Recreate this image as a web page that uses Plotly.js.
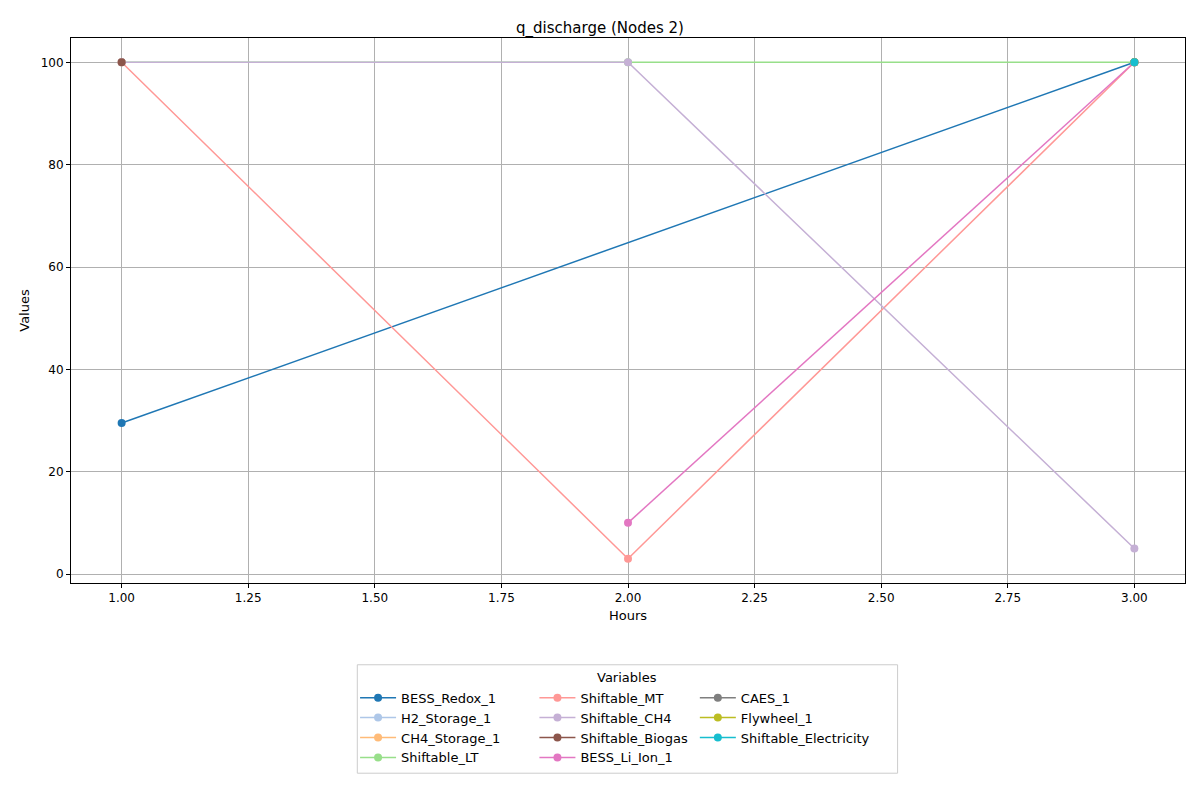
<!DOCTYPE html>
<html>
<head>
<meta charset="utf-8">
<script src="https://cdn.plot.ly/plotly-3.0.1.min.js"></script>
<style>body{margin:0}#plot{width:1200px;height:800px}</style>
</head>
<body>
<div id="plot"></div>
<script>
// hours on the x axis
const hours = [1, 2, 3];

// one array per variable (null = no value that hour)
const bess_redox_1 = [29.5, null, 100];
const h2_storage_1 = [null, null, 100];
const ch4_storage_1 = [null, null, 100];
const shiftable_lt = [100, 100, 100];
const shiftable_mt = [100, 3, 100];
const shiftable_ch4 = [100, 100, 5];
const shiftable_biogas = [100, null, null];
const bess_li_ion_1 = [null, 10, 100];
const caes_1 = [null, null, 100];
const flywheel_1 = [null, null, 100];
const shiftable_electricity = [null, null, 100];

const names = ['BESS_Redox_1', 'H2_Storage_1', 'CH4_Storage_1', 'Shiftable_LT', 'Shiftable_MT',
    'Shiftable_CH4', 'Shiftable_Biogas', 'BESS_Li_Ion_1', 'CAES_1', 'Flywheel_1', 'Shiftable_Electricity'];
const series = [bess_redox_1, h2_storage_1, ch4_storage_1, shiftable_lt, shiftable_mt,
    shiftable_ch4, shiftable_biogas, bess_li_ion_1, caes_1, flywheel_1, shiftable_electricity];
const colors = ['#1f77b4', '#aec7e8', '#ffbb78', '#98df8a', '#ff9896',
    '#c5b0d5', '#8c564b', '#e377c2', '#7f7f7f', '#bcbd22', '#17becf'];

// matplotlib fills legend columns of 4 rows
const legend_ids = ['legend', 'legend2', 'legend3'];
const traces = series.map((s, i) => ({
    x: hours,
    y: s,
    name: names[i],
    type: 'scatter',
    mode: 'lines+markers',
    connectgaps: true,
    line: { color: colors[i], width: 1.5 },
    marker: { color: colors[i], size: 8 },
    legend: legend_ids[Math.floor(i / 4)]
}));

const leg = (x) => ({
    x: x, y: -0.183, xanchor: 'left', yanchor: 'top',
    bgcolor: 'rgba(0,0,0,0)', font: { size: 13, color: '#000' },
    tracegroupgap: 0, itemwidth: 36
});

const axis = {
    showline: true, mirror: true, linecolor: '#000', linewidth: 1,
    ticks: 'outside', ticklen: 4, tickcolor: '#000',
    showgrid: true, gridcolor: '#b0b0b0', gridwidth: 1, zeroline: false,
    tickfont: { size: 12, color: '#000' }
};

const layout = {
    width: 1200, height: 800,
    font: { family: 'DejaVu Sans', color: '#000' },
    paper_bgcolor: '#fff', plot_bgcolor: '#fff',
    margin: { l: 71, r: 15, t: 38, b: 217 },
    title: { text: 'q_discharge (Nodes 2)', x: 0.5, xanchor: 'center', y: 0.972, font: { size: 15 } },
    xaxis: Object.assign({}, axis, {
        range: [0.9, 3.1], tickvals: [1, 1.25, 1.5, 1.75, 2, 2.25, 2.5, 2.75, 3],
        tickformat: '.2f', title: { text: 'Hours', font: { size: 13 }, standoff: 6 }
    }),
    yaxis: Object.assign({}, axis, {
        range: [-1.75, 104.75], tickvals: [0, 20, 40, 60, 80, 100],
        title: { text: 'Values', font: { size: 13 }, standoff: 8 }
    }),
    legend: leg(0.255),
    legend2: leg(0.416),
    legend3: leg(0.560),
    shapes: [{
        type: 'rect', xref: 'paper', yref: 'paper',
        x0: 0.257, x1: 0.742, y0: -0.349, y1: -0.150,
        line: { color: '#cccccc', width: 1 }, fillcolor: 'rgba(0,0,0,0)'
    }],
    annotations: [{
        text: 'Variables', xref: 'paper', yref: 'paper', x: 0.4995, y: -0.19,
        showarrow: false, font: { size: 13 }
    }]
};

Plotly.newPlot('plot', traces, layout, { displayModeBar: false });
</script>
</body>
</html>
